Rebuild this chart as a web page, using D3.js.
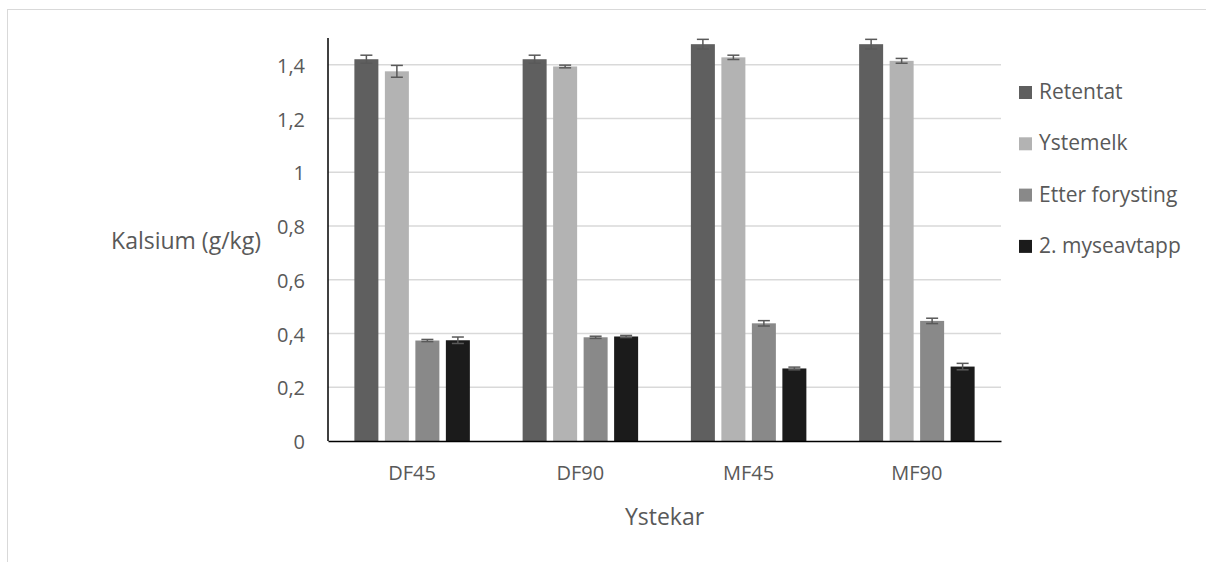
<!DOCTYPE html>
<html><head><meta charset="utf-8">
<script src="https://cdn.jsdelivr.net/npm/d3@7"></script>
<style>body{margin:0;background:#fff}svg{display:block}text{font-family:"Open Sans",sans-serif;fill:#595959}</style>
</head><body>
<svg id="c" width="1206" height="562"></svg>
<script>
const categories = ["DF45","DF90","MF45","MF90"];
const seriesNames = ["Retentat","Ystemelk","Etter forysting","2. myseavtapp"];
const seriesColors = ["#5f5f5f","#b3b3b3","#898989","#1b1b1b"];
const retentat = [1.421,1.421,1.477,1.477];
const ystemelk = [1.376,1.394,1.428,1.415];
const etterForysting = [0.374,0.386,0.438,0.447];
const myseavtapp = [0.375,0.389,0.270,0.277];
const retentatErr = [0.015,0.015,0.018,0.018];
const ystemelkErr = [0.022,0.005,0.008,0.009];
const etterForystingErr = [0.004,0.004,0.010,0.010];
const myseavtappErr = [0.012,0.004,0.005,0.012];
const yTicks = [0,0.2,0.4,0.6,0.8,1,1.2,1.4];
const yLabel = "Kalsium (g/kg)";
const xLabel = "Ystekar";

const values = [retentat, ystemelk, etterForysting, myseavtapp];
const errs = [retentatErr, ystemelkErr, etterForystingErr, myseavtappErr];

const svg = d3.select("#c");
svg.append("rect").attr("x",7.5).attr("y",9.5).attr("width",1210).attr("height",600)
  .attr("fill","none").attr("stroke","#d9d9d9").attr("stroke-width",1);

const L=328, R=1001, T=38, B=441;
const y = d3.scaleLinear().domain([0,1.5]).range([B,T]);
const x0 = d3.scaleBand().domain(categories).range([L,R]).paddingInner(0).paddingOuter(0);
const x1 = d3.scaleBand().domain(seriesNames).range([0,x0.bandwidth()]).paddingInner(0.213).paddingOuter(0.865);

// gridlines
svg.append("g").selectAll("line").data(yTicks.filter(d=>d>0)).join("line")
  .attr("x1",L).attr("x2",R).attr("y1",d=>y(d)).attr("y2",d=>y(d))
  .attr("stroke","#d9d9d9").attr("stroke-width",1.5);

// y tick labels via axis
const fmt = d => String(d).replace(".",",");
const yAxis = svg.append("g").attr("transform",`translate(${L},0)`)
  .call(d3.axisLeft(y).tickValues(yTicks).tickFormat(fmt).tickSize(0).tickPadding(23));
yAxis.select(".domain").remove();
yAxis.selectAll("text").attr("font-size","20px").attr("fill","#595959").attr("dy",null)
  .attr("dominant-baseline","alphabetic").attr("y",7.5)
  .style("font-family","'Open Sans',sans-serif");

// bars
const groups = svg.append("g").selectAll("g").data(categories).join("g")
  .attr("transform",d=>`translate(${x0(d)},0)`);
groups.each(function(cat, ci){
  const g = d3.select(this);
  seriesNames.forEach((s, si)=>{
    const v = values[si][ci];
    g.append("rect").attr("x",x1(s)).attr("y",y(v)).attr("width",x1.bandwidth()).attr("height",y(0)-y(v))
      .attr("fill",seriesColors[si]);
    const e = errs[si][ci];
    const cx = x1(s)+x1.bandwidth()/2;
    const eg = g.append("g").attr("stroke","#595959").attr("stroke-width",1.5);
    eg.append("line").attr("x1",cx).attr("x2",cx).attr("y1",y(v+e)).attr("y2",y(v-e));
    eg.append("line").attr("x1",cx-6).attr("x2",cx+6).attr("y1",y(v+e)).attr("y2",y(v+e));
    eg.append("line").attr("x1",cx-6).attr("x2",cx+6).attr("y1",y(v-e)).attr("y2",y(v-e));
  });
});

// axes lines
svg.append("line").attr("x1",L).attr("x2",L).attr("y1",T).attr("y2",B).attr("stroke","#000").attr("stroke-width",1.5);
const xAxis = svg.append("g").attr("transform",`translate(0,${B})`)
  .call(d3.axisBottom(x0).tickSize(0));
xAxis.select(".domain").attr("stroke","#000").attr("stroke-width",1.5);
xAxis.selectAll("text").attr("font-size","20px").attr("fill","#595959").attr("dy",null).attr("y",38.5)
  .style("font-family","'Open Sans',sans-serif");

// axis titles
svg.append("text").attr("x",186).attr("y",248.5).attr("text-anchor","middle")
  .attr("font-size","23px").text(yLabel);
svg.append("text").attr("x",(L+R)/2).attr("y",525).attr("text-anchor","middle")
  .attr("font-size","23px").text(xLabel);

// legend
const lg = svg.append("g").selectAll("g").data(seriesNames).join("g")
  .attr("transform",(d,i)=>`translate(1019,${99 + i*51.3})`);
lg.append("rect").attr("x",0).attr("y",-13).attr("width",13).attr("height",13).attr("fill",(d,i)=>seriesColors[i]);
lg.append("text").attr("x",20).attr("y",0).attr("font-size","21px").text(d=>d);
</script>
</body></html>
